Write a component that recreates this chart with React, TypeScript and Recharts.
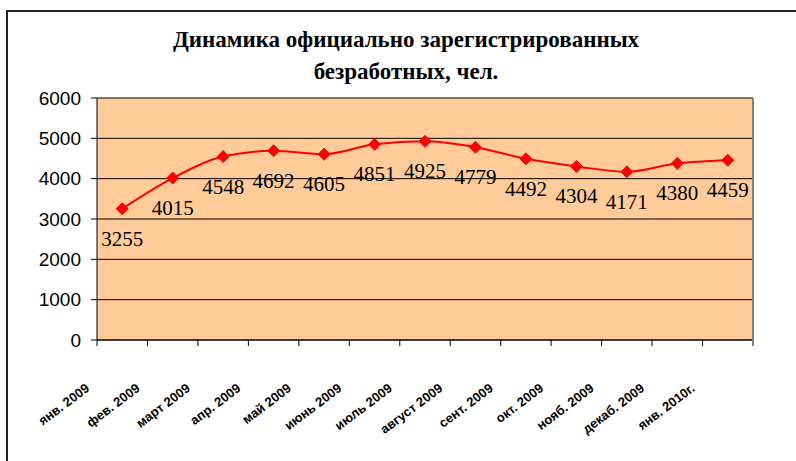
import React from 'react';
import { LineChart, Line, XAxis, YAxis, CartesianGrid, LabelList } from 'recharts';

const months = [
  'янв. 2009',
  'фев. 2009',
  'март 2009',
  'апр. 2009',
  'май 2009',
  'июнь 2009',
  'июль 2009',
  'август 2009',
  'сент. 2009',
  'окт. 2009',
  'нояб. 2009',
  'декаб. 2009',
  'янв. 2010г.',
];
const unemployed = [3255, 4015, 4548, 4692, 4605, 4851, 4925, 4779, 4492, 4304, 4171, 4380, 4459];
const yTicks = [0, 1000, 2000, 3000, 4000, 5000, 6000];
const titleLine1 = 'Динамика официально зарегистрированных';
const titleLine2 = 'безработных, чел.';

const data = months.map((m, i) => ({ month: m, pos: i + 0.5, value: unemployed[i] }));
// ticks at category boundaries (integers) and category centres (halves)
const xTicks: number[] = [];
for (let i = 0; i <= months.length * 2; i++) xTicks.push(i / 2);

const Diamond = (props: any) => {
  const { cx, cy } = props;
  if (cx == null || cy == null) return null;
  const r = 6;
  return (
    <polygon
      points={`${cx},${cy - r} ${cx + r},${cy} ${cx},${cy + r} ${cx - r},${cy}`}
      fill="#FF0000"
      stroke="#FF0000"
      strokeWidth={1}
    />
  );
};

const ValueLabel = (props: any) => {
  const { x, y, value } = props;
  return (
    <text
      x={x}
      y={y + 30}
      textAnchor="middle"
      dominantBaseline="central"
      fontFamily="'Liberation Serif', 'Times New Roman', serif"
      fontSize={21}
      fill="#000"
    >
      {value}
    </text>
  );
};

const XTick = (props: any) => {
  const { x, y, payload } = props;
  const v = payload.value;
  if (Number.isInteger(v)) {
    return <line x1={x} y1={y} x2={x} y2={y + 6} stroke="#000" strokeWidth={1} />;
  }
  const idx = Math.round(v - 0.5);
  const label = months[idx] ?? '';
  const ax = x - 32;
  const ay = y + 50;
  return (
    <text
      x={ax}
      y={ay}
      textAnchor="end"
      transform={`rotate(-37, ${ax}, ${ay})`}
      fontFamily="'Liberation Sans', Arial, sans-serif"
      fontWeight="bold"
      fontSize={13}
      fill="#000"
    >
      {label}
    </text>
  );
};

export default function App() {
  return (
    <div style={{ position: 'absolute', left: 0, top: 0, width: 796, height: 461, background: '#fff', overflow: 'hidden' }}>
      <LineChart width={796} height={461} data={data} margin={{ top: 98, right: 43, bottom: 0, left: 7 }}>
        <CartesianGrid
          vertical={false}
          fill="#FFCC99"
          fillOpacity={1}
          stroke="#000"
          strokeWidth={1}
        />
        <YAxis
          domain={[0, 6000]}
          ticks={yTicks}
          interval={0}
          width={90}
          tickSize={6}
          tickMargin={10}
          axisLine={{ stroke: '#000' }}
          tickLine={{ stroke: '#000' }}
          tick={{ fill: '#000', fontSize: 19, fontFamily: "'Liberation Sans', Arial, sans-serif" }}
        />
        <XAxis
          type="number"
          dataKey="pos"
          domain={[0, months.length]}
          ticks={xTicks}
          interval={0}
          height={121}
          tickSize={0}
          tickMargin={0}
          axisLine={{ stroke: '#000' }}
          tickLine={false}
          tick={<XTick />}
          allowDataOverflow
        />
        <Line
          type="monotone"
          dataKey="value"
          stroke="#FF0000"
          strokeWidth={2}
          dot={<Diamond />}
          activeDot={false}
          isAnimationActive={false}
        >
          <LabelList dataKey="value" content={<ValueLabel />} />
        </Line>
      </LineChart>
      <div
        style={{
          position: 'absolute',
          left: 6,
          top: 10,
          width: 800,
          height: 460,
          borderLeft: '2px solid #222',
          borderTop: '2px solid #222',
          pointerEvents: 'none',
        }}
      />
      <div
        style={{
          position: 'absolute',
          left: 752,
          top: 98,
          width: 0,
          height: 243,
          borderRight: '2px solid #808080',
          pointerEvents: 'none',
        }}
      />
      <div
        style={{
          position: 'absolute',
          left: 0,
          top: 24,
          width: 812,
          textAlign: 'center',
          fontFamily: "'Liberation Serif', 'Times New Roman', serif",
          fontWeight: 'bold',
          fontSize: 23,
          lineHeight: '32px',
          color: '#000',
          whiteSpace: 'nowrap',
        }}
      >
        {titleLine1}
      </div>
      <div
        style={{
          position: 'absolute',
          left: 0,
          top: 56,
          width: 812,
          textAlign: 'center',
          fontFamily: "'Liberation Serif', 'Times New Roman', serif",
          fontWeight: 'bold',
          fontSize: 23,
          lineHeight: '32px',
          color: '#000',
          whiteSpace: 'nowrap',
        }}
      >
        {titleLine2}
      </div>
    </div>
  );
}
